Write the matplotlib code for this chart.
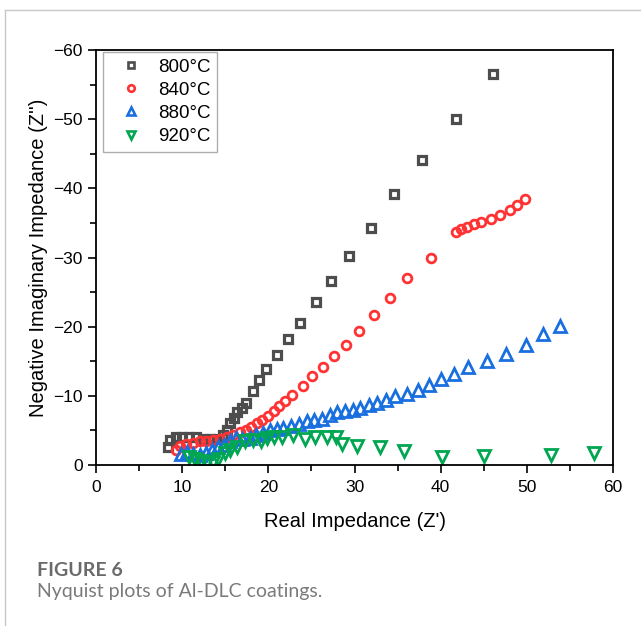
import matplotlib.pyplot as plt
from matplotlib.lines import Line2D
from matplotlib.ticker import MultipleLocator

plt.rcParams['font.family'] = ['Liberation Sans', 'DejaVu Sans']

# Nyquist data (Z' , Z'')
x800 = [8.4, 8.6, 9.3, 10.0, 10.8, 11.6, 12.4, 13.2, 14.0, 14.7, 15.2, 15.6, 16.0, 16.4,
        16.9, 17.4, 18.2, 18.9, 19.7, 21.0, 22.3, 23.7, 25.5, 27.3, 29.4, 31.9, 34.6,
        37.8, 41.8, 46.1]
y800 = [-2.6, -3.6, -4.0, -4.1, -4.1, -4.0, -3.8, -3.7, -3.8, -4.4, -5.1, -6.0, -6.8, -7.6,
        -8.2, -9.0, -10.7, -12.3, -13.9, -15.9, -18.2, -20.6, -23.6, -26.6, -30.2, -34.3,
        -39.2, -44.1, -50.0, -56.5]

x840 = [9.3, 9.8, 10.5, 11.3, 12.1, 12.8, 13.6, 14.4, 15.2, 15.9, 16.7, 17.4, 18.0, 18.7,
        19.3, 20.0, 20.6, 21.2, 21.9, 22.8, 24.0, 25.1, 26.3, 27.6, 29.0, 30.5, 32.3, 34.1,
        36.1, 38.9, 41.8, 42.4, 43.1, 43.9, 44.7, 45.8, 46.9, 48.0, 48.9, 49.8]
y840 = [-2.2, -2.7, -3.0, -3.2, -3.4, -3.5, -3.6, -3.7, -4.0, -4.3, -4.7, -5.1, -5.5, -6.0,
        -6.5, -7.1, -7.8, -8.5, -9.2, -10.1, -11.4, -12.8, -14.1, -15.7, -17.3, -19.4, -21.7,
        -24.2, -27.0, -30.0, -33.7, -34.1, -34.4, -34.8, -35.2, -35.6, -36.2, -36.8, -37.6,
        -38.4]

x880 = [9.9, 10.6, 11.3, 12.1, 12.8, 13.5, 14.1, 14.8, 15.5, 16.2, 17.0, 17.9, 18.6, 19.4,
        20.2, 21.0, 21.7, 22.6, 23.6, 24.5, 25.3, 26.2, 27.1, 28.0, 28.9, 29.8, 30.6, 31.7,
        32.6, 33.6, 34.7, 36.1, 37.4, 38.7, 40.0, 41.6, 43.2, 45.4, 47.6, 49.9, 51.9, 53.8]
y880 = [-1.6, -1.9, -1.6, -1.4, -1.7, -2.2, -2.6, -2.9, -3.4, -3.9, -3.8, -3.9, -4.3, -4.6,
        -5.0, -5.2, -5.3, -5.6, -5.9, -6.3, -6.5, -6.7, -7.2, -7.6, -7.8, -8.0, -8.3, -8.7,
        -9.0, -9.4, -10.0, -10.3, -10.9, -11.6, -12.4, -13.1, -14.1, -15.1, -16.0, -17.3,
        -18.9, -20.1]

x920 = [10.8, 11.5, 12.2, 12.9, 13.6, 14.2, 15.0, 15.6, 16.4, 17.3, 18.2, 19.1, 19.8, 20.7,
        21.6, 22.9, 24.2, 25.4, 26.8, 27.8, 28.5, 30.3, 33.0, 35.8, 40.1, 45.0, 52.8, 57.8]
y920 = [-1.2, -0.9, -0.6, -0.5, -0.5, -0.8, -1.8, -2.2, -2.6, -3.4, -3.6, -3.4, -3.9, -4.0,
        -4.1, -4.3, -3.8, -4.1, -4.1, -4.0, -3.1, -2.8, -2.6, -2.0, -1.2, -1.3, -1.4, -1.8]

labels = ['800°C', '840°C', '880°C', '920°C']
colors = ['#4d4d4d', '#ff3333', '#1a6fe0', '#00a651']
markers = ['s', 'o', '^', 'v']
msize = {'s': 6.0, 'o': 6.3, '^': 8.0, 'v': 8.0}

fig = plt.figure(figsize=(6.41, 6.26), dpi=100)
ax = fig.add_axes([0.1498, 0.2572, 0.8065, 0.6629])

series = [(x800, y800), (x840, y840), (x880, y880), (x920, y920)]
for (xs, ys), lab, c, m in zip(series, labels, colors, markers):
    ax.plot(xs, ys, linestyle='none', marker=m, markersize=msize[m],
            markerfacecolor='none', markeredgecolor=c,
            markeredgewidth=2.3 if m == 's' else 2.0, label=lab)

ax.set_xlim(0, 60)
ax.set_ylim(0, -60)
ax.xaxis.set_major_locator(MultipleLocator(10))
ax.xaxis.set_minor_locator(MultipleLocator(5))
ax.yaxis.set_major_locator(MultipleLocator(10))
ax.yaxis.set_minor_locator(MultipleLocator(5))
ax.tick_params(which='major', direction='out', length=6, width=1.2, labelsize=12.5, color='black')
ax.tick_params(which='minor', direction='out', length=4, width=1.2)
ax.tick_params(axis='x', pad=5)
for s in ax.spines.values():
    s.set_linewidth(1.3)

ax.set_xlabel("Real Impedance (Z')", fontsize=14.5, labelpad=12)
ax.set_ylabel("Negative Imaginary Impedance (Z'')", fontsize=14.5, labelpad=4)

handles = [Line2D([], [], linestyle='none', marker=m, markersize=msize[m] * 0.75,
                  markerfacecolor='none', markeredgecolor=c, markeredgewidth=1.9)
           for c, m in zip(colors, markers)]
leg = ax.legend(handles, labels, loc='upper left', bbox_to_anchor=(0.014, 0.995),
                fontsize=13.5, frameon=True, fancybox=False, borderpad=0.35,
                labelspacing=0.32, handletextpad=0.25, handlelength=2.3, borderaxespad=0.0)
leg.get_frame().set_edgecolor('#999999')
leg.get_frame().set_linewidth(1.0)

# page borders and caption
fig.add_artist(Line2D([4.5 / 641, 4.5 / 641], [0, 1 - 10 / 626], color='#c8c8c8', lw=1))
fig.add_artist(Line2D([4.5 / 641, 1], [1 - 10 / 626, 1 - 10 / 626], color='#c8c8c8', lw=1))
fig.text(37 / 641, 1 - 570 / 626, 'FIGURE 6', fontsize=14, fontweight='bold',
         color='#6a6a6a', family=['Lato', 'DejaVu Sans'], va='center')
fig.text(37 / 641, 1 - 592 / 626, 'Nyquist plots of Al-DLC coatings.', fontsize=14,
         color='#7a7a7a', family=['Lato', 'DejaVu Sans'], va='center')

fig.savefig('out.png', dpi=100)
